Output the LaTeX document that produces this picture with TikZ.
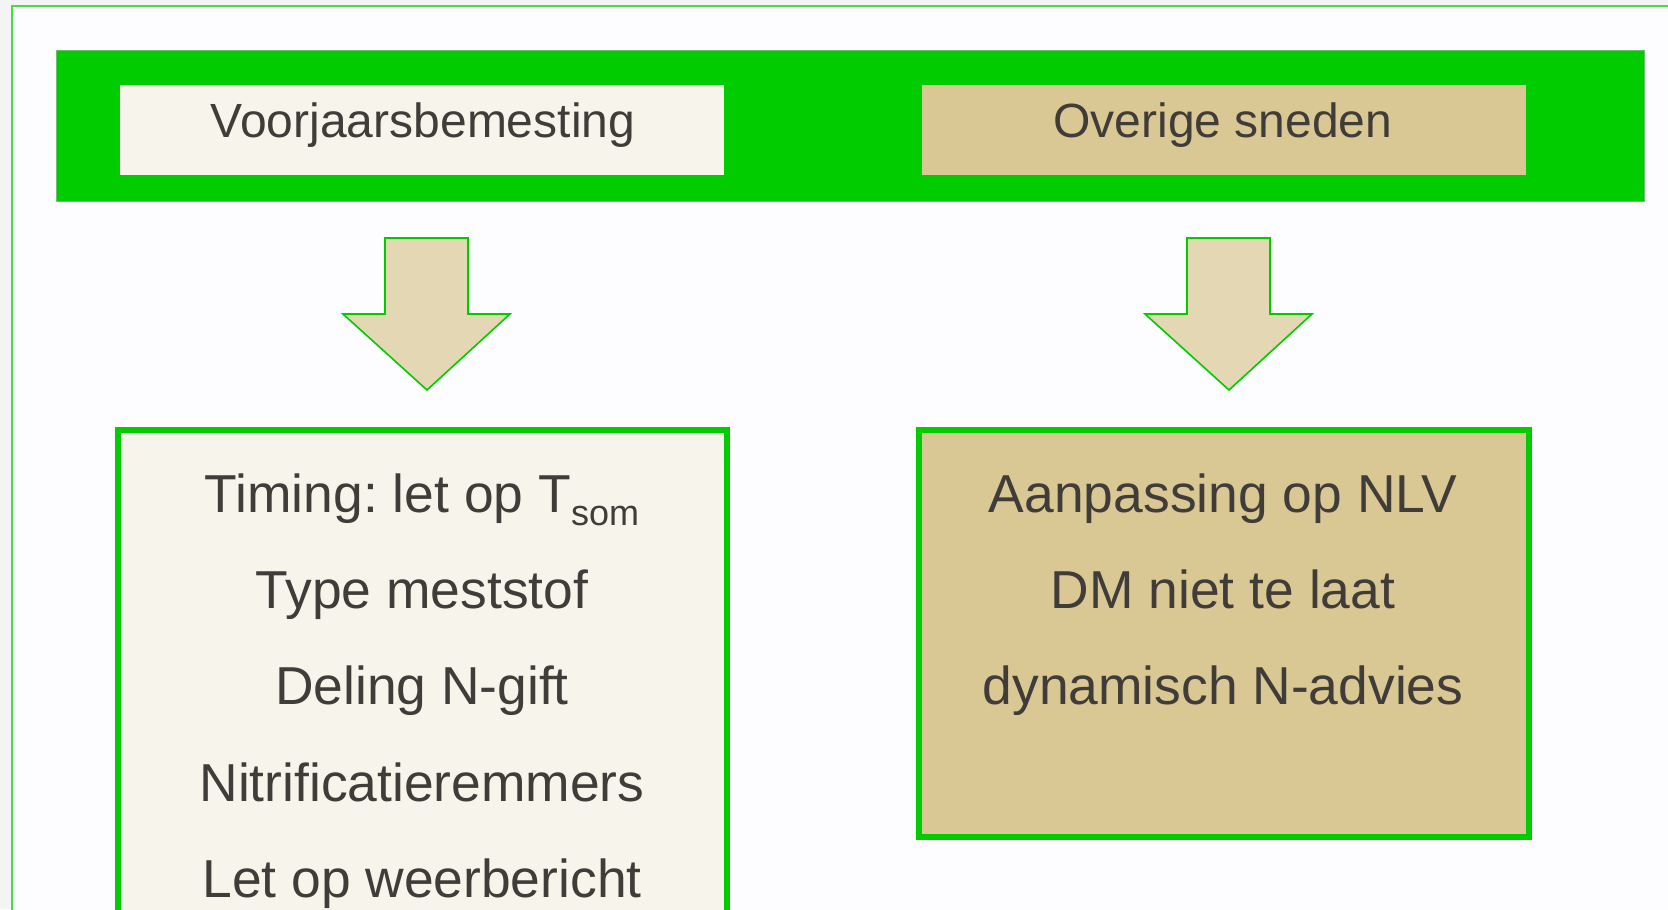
\documentclass[tikz,border=0pt]{standalone}
\usepackage{fontspec}
\setmainfont{Liberation Sans}
\frenchspacing
\definecolor{bggray}{HTML}{F4F4F4}
\definecolor{pagewhite}{HTML}{FDFCFF}
\definecolor{framegreen}{HTML}{44DD44}
\definecolor{bandgreen}{HTML}{00CC00}
\definecolor{cream}{HTML}{F7F5EB}
\definecolor{tan}{HTML}{D9C893}
\definecolor{arrowfill}{HTML}{E3D8B3}
\definecolor{txt}{HTML}{403C39}
\begin{document}
\begin{tikzpicture}[x=0.5pt,y=-0.5pt,
  band/.style={fill=bandgreen,draw=black!25!bandgreen!60!white,line width=0.5pt,inner sep=0pt,minimum width=794pt,minimum height=75.5pt},
  hdrbox/.style={inner sep=0pt,minimum width=302pt,minimum height=45pt},
  hdrtext/.style={anchor=base,text=txt,inner sep=0pt,font=\fontsize{24}{29}\selectfont},
  bigbox/.style={draw=bandgreen,line width=3pt,inner sep=0pt,minimum width=304.5pt},
  boxtext/.style={anchor=base,text=txt,inner sep=0pt,font=\fontsize{26.7}{32}\selectfont},
  downarrow/.style={fill=arrowfill,draw=bandgreen,line width=0.8pt,line join=miter}
]
\useasboundingbox (0,0) rectangle (1668,909);
\clip (0,0) rectangle (1668,909);
\fill[bggray] (0,0) rectangle (1668,909);
\filldraw[fill=pagewhite,draw=framegreen,line width=1pt] (12,6) rectangle (1720,960);

% header band
\node[band] (band) at (850,126.5) {};
\node[hdrbox,fill=cream] (hl) at (422,130) {};
\node[hdrbox,fill=tan] (hr) at (1224,130) {};
\node[hdrtext] (hlt) at (423,138) {Voorjaarsbemesting};
\node[hdrtext] (hrt) at (1223,138) {Overige sneden};

% arrows
\draw[downarrow] (385,238) -- (468,238) -- (468,314) -- (510,314) -- (427,390) -- (343,314) -- (385,314) -- cycle;
\draw[downarrow] (1187,238) -- (1270,238) -- (1270,314) -- (1312,314) -- (1229,390) -- (1145,314) -- (1187,314) -- cycle;

% boxes
\node[bigbox,fill=cream,minimum height=265pt] (bl) at (422.5,695) {};
\node[bigbox,fill=tan,minimum width=305pt,minimum height=203.5pt] (br) at (1224,633.5) {};

\node[boxtext] (l1) at (422,512) {Timing: let op T\raisebox{-6.5pt}{\fontsize{18}{22}\selectfont som}};
\node[boxtext] (l2) at (422,608) {Type meststof};
\node[boxtext] (l3) at (422,704) {Deling N-gift};
\node[boxtext] (l4) at (422,801) {Nitrificatieremmers};
\node[boxtext] (l5) at (422,897) {Let op weerbericht};

\node[boxtext] (r1) at (1223,512) {Aanpassing op NLV};
\node[boxtext] (r2) at (1223,608) {DM niet te laat};
\node[boxtext] (r3) at (1223,704) {dynamisch N-advies};
\end{tikzpicture}
\end{document}
